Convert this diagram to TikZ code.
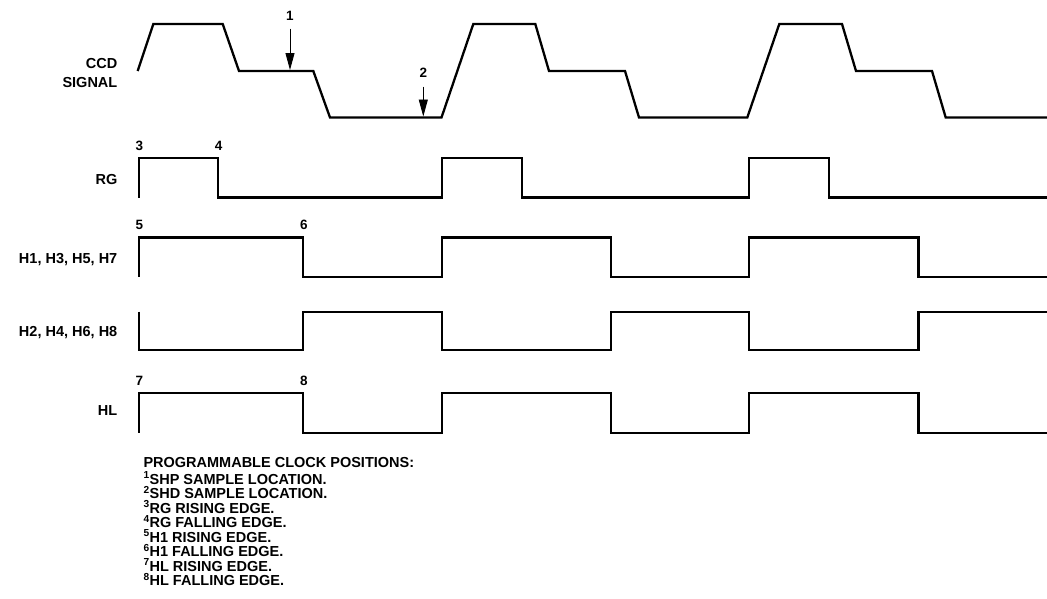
\documentclass[tikz,border=0pt]{standalone}
\usepackage{fontspec}
\setmainfont{Liberation Sans}
\usetikzlibrary{arrows.meta}
\begin{document}
\begin{tikzpicture}[x=1pt,y=-1pt,
  wave/.style={line width=2.3pt, line join=miter, black},
  lbl/.style={font=\bfseries\fontsize{14.5}{16}\selectfont, anchor=base east, inner sep=0pt},
  num/.style={font=\bfseries\fontsize{13.5}{15}\selectfont, anchor=base, inner sep=0pt},
  marker/.style={line width=0.9pt, -{Triangle[length=17pt,width=9pt]}}
]
\useasboundingbox (0,0) rectangle (1047,598);

% row labels
\node[lbl] (ccdl) at (117.5,68.5) {CCD};
\node[lbl] (sigl) at (117.5,87.9) {SIGNAL};
\node[lbl] (rgl) at (117.5,184.5) {RG};
\node[lbl] (h1l) at (117.5,263.5) {H1, H3, H5, H7};
\node[lbl] (h2l) at (117.5,336.9) {H2, H4, H6, H8};
\node[lbl] (hll) at (117.5,415.9) {HL};

% CCD signal
\draw[wave] (137.7,71) -- (153.3,24) -- (222.7,24) -- (239,71) -- (313.3,71)
  -- (330,117.5) -- (441.5,117.5) -- (473.3,24) -- (535.3,24) -- (549,71)
  -- (625,71) -- (639,117.5) -- (747.3,117.5) -- (779.3,24) -- (842,24)
  -- (856,71) -- (932,71) -- (945.7,117.5) -- (1047,117.5);

% RG
\draw[wave] (138.8,197.5) -- (138.8,158.3) -- (218.3,158.3) -- (218.3,197.5)
  -- (442,197.5) -- (442,158.3) -- (521.7,158.3) -- (521.7,197.5)
  -- (749,197.5) -- (749,158.3) -- (829,158.3) -- (829,197.5) -- (1047,197.5);

% H1, H3, H5, H7
\draw[wave] (138.8,276.7) -- (138.8,237.5) -- (303.3,237.5) -- (303.3,276.7)
  -- (442,276.7) -- (442,237.5) -- (611,237.5) -- (611,276.7)
  -- (749,276.7) -- (749,237.5) -- (918.5,237.5) -- (918.5,276.7) -- (1047,276.7);

% H2, H4, H6, H8
\draw[wave] (138.8,311.7) -- (138.8,350.3) -- (303.3,350.3) -- (303.3,311.7)
  -- (442,311.7) -- (442,350.3) -- (611,350.3) -- (611,311.7)
  -- (749,311.7) -- (749,350.3) -- (918.5,350.3) -- (918.5,311.7) -- (1047,311.7);

% HL
\draw[wave] (138.8,432.7) -- (138.8,393) -- (303.3,393) -- (303.3,432.7)
  -- (442,432.7) -- (442,393) -- (611,393) -- (611,432.7)
  -- (749,432.7) -- (749,393) -- (918.5,393) -- (918.5,432.7) -- (1047,432.7);

% sample markers
\coordinate (m1s) at (290,28.5);
\coordinate (m1e) at (290,70);
\coordinate (m2s) at (423.3,86.5);
\coordinate (m2e) at (423.3,116.5);
\draw[marker] (m1s) -- (m1e);
\draw[marker] (m2s) -- (m2e);
\node[num] (n1) at (290,20.7) {1};
\node[num] (n2) at (423.3,77.3) {2};

% edge numbers
\node[num] (n3) at (139.3,150.3) {3};
\node[num] (n4) at (218.7,150.3) {4};
\node[num] (n5) at (139.3,229.5) {5};
\node[num] (n6) at (304,229.5) {6};
\node[num] (n7) at (139.3,385) {7};
\node[num] (n8) at (304,385) {8};

% legend
\node[anchor=north west, align=left, inner sep=0pt,
  font=\bfseries\fontsize{14.5}{14.5}\selectfont] (legend) at (143.3,457.3) {%
PROGRAMMABLE CLOCK POSITIONS:\\[2pt]
\textsuperscript{1}SHP SAMPLE LOCATION.\\
\textsuperscript{2}SHD SAMPLE LOCATION.\\
\textsuperscript{3}RG RISING EDGE.\\
\textsuperscript{4}RG FALLING EDGE.\\
\textsuperscript{5}H1 RISING EDGE.\\
\textsuperscript{6}H1 FALLING EDGE.\\
\textsuperscript{7}HL RISING EDGE.\\
\textsuperscript{8}HL FALLING EDGE.};
\end{tikzpicture}
\end{document}
